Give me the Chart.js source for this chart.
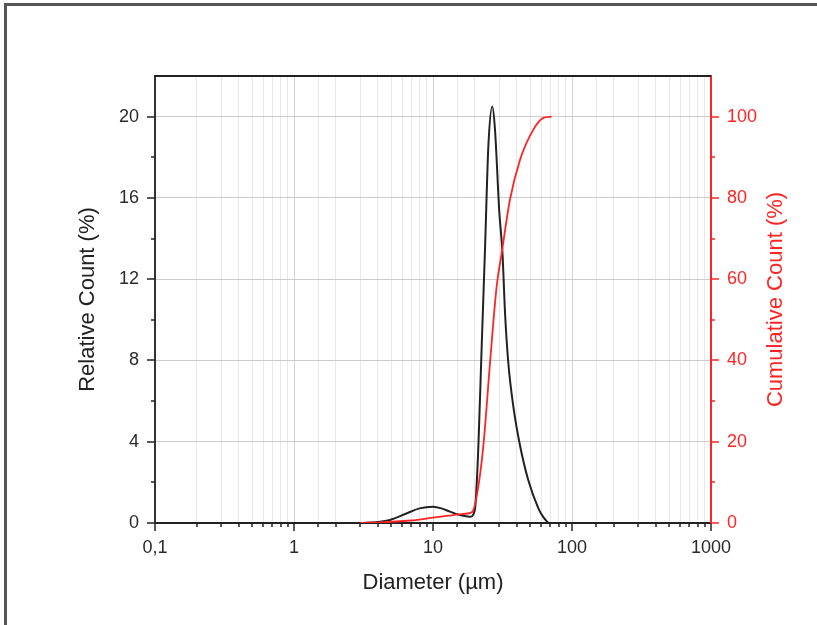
<!DOCTYPE html>
<html>
<head>
<meta charset="utf-8">
<script src="https://cdn.jsdelivr.net/npm/chart.js@4.4.1/dist/chart.umd.min.js"></script>
<style>
  body { margin: 0; background: #fff; }
  #wrap { position: relative; width: 817px; height: 625px; overflow: hidden; }
  #frame {
    position: absolute; left: 4px; top: 3px; width: 900px; height: 700px;
    border-left: 3px solid #555; border-top: 3px solid #555;
  }
  #chart { position: absolute; left: 0; top: 0; }
</style>
</head>
<body>
<div id="wrap">
  <div id="frame"></div>
  <canvas id="chart" width="817" height="625"></canvas>
</div>
<script>
// relative count curve (black, left axis)
const relDiameter = [3.0, 4.0, 4.9, 6.5, 8.0, 10.0, 11.5, 13.2, 15.6, 18.5, 20.0, 21.2, 22.4, 23.7, 25.0, 26.7, 27.9, 30.0, 31.6, 33.0, 34.8, 37.9, 42.3, 48.5, 57.3, 62.0, 67.6];
const relCount = [0, 0.05, 0.15, 0.48, 0.72, 0.80, 0.72, 0.56, 0.39, 0.31, 0.64, 3.76, 8.7, 13.6, 18.5, 20.5, 19.4, 15.3, 13.3, 10.3, 7.9, 5.7, 3.8, 2.1, 0.72, 0.3, 0];

// cumulative count curve (red, right axis)
const cumDiameter = [3.0, 4.5, 6.5, 8.0, 10.0, 13.0, 16.0, 19.0, 20.6, 23.0, 25.7, 28.7, 31.2, 35.8, 42.3, 52.7, 62.2, 71.4];
const cumCount = [0, 0.2, 0.55, 0.85, 1.3, 1.8, 2.2, 2.6, 6.5, 18.8, 39.3, 58.2, 66.4, 79.6, 89.4, 96.8, 99.7, 100];

const xMin = 0.1, xMax = 1000;
const yLeftMax = 22, yRightMax = 110;

const FONT = '"Liberation Sans", Arial, sans-serif';
const RED = '#ff2424';

function isDecade(v) {
  const l = Math.log10(v);
  return Math.abs(l - Math.round(l)) < 1e-6;
}

// ticks drawn by hand so that minor ticks can be shorter
const axisDecor = {
  id: 'axisDecor',
  afterDraw(chart) {
    const ctx = chart.ctx;
    const { left, right, top, bottom } = chart.chartArea;
    const sx = chart.scales.x, sy = chart.scales.y, sy1 = chart.scales.y1;
    ctx.save();
    ctx.strokeStyle = '#222';
    ctx.lineWidth = 2;
    ctx.beginPath();
    ctx.moveTo(left - 1, top);
    ctx.lineTo(right, top);
    ctx.stroke();

    ctx.lineWidth = 1.5;
    ctx.strokeStyle = '#222';
    sx.ticks.forEach((t) => {
      const px = Math.round(sx.getPixelForValue(t.value));
      const len = isDecade(t.value) ? 8 : 4;
      ctx.beginPath();
      ctx.moveTo(px, bottom);
      ctx.lineTo(px, bottom + len);
      ctx.stroke();
    });
    sy.ticks.forEach((t) => {
      if (t.value >= yLeftMax) return;
      const py = Math.round(sy.getPixelForValue(t.value));
      const len = t.value % 4 === 0 ? 8 : 4;
      ctx.beginPath();
      ctx.moveTo(left, py);
      ctx.lineTo(left - len, py);
      ctx.stroke();
    });
    ctx.strokeStyle = RED;
    sy1.ticks.forEach((t) => {
      if (t.value >= yRightMax) return;
      const py = Math.round(sy1.getPixelForValue(t.value));
      const len = t.value % 20 === 0 ? 8 : 4;
      ctx.beginPath();
      ctx.moveTo(right, py);
      ctx.lineTo(right + len, py);
      ctx.stroke();
    });

    // right title reads bottom to top
    ctx.translate(776, (top + bottom) / 2);
    ctx.rotate(-Math.PI / 2);
    ctx.fillStyle = RED;
    ctx.font = '22px ' + FONT;
    ctx.textAlign = 'center';
    ctx.textBaseline = 'middle';
    ctx.fillText('Cumulative Count (%)', 0, 0);
    ctx.restore();
  },
};

const ctx = document.getElementById('chart').getContext('2d');
new Chart(ctx, {
  type: 'line',
  data: {
    datasets: [
      {
        label: 'Cumulative Count',
        data: cumDiameter.map((d, i) => ({ x: d, y: cumCount[i] })),
        yAxisID: 'y1',
        borderColor: RED,
        borderWidth: 1.8,
        pointRadius: 0,
        cubicInterpolationMode: 'monotone',
        order: 0,
      },
      {
        label: 'Relative Count',
        data: relDiameter.map((d, i) => ({ x: d, y: relCount[i] })),
        yAxisID: 'y',
        borderColor: '#222',
        borderWidth: 2,
        pointRadius: 0,
        cubicInterpolationMode: 'monotone',
        order: 1,
      },
    ],
  },
  options: {
    responsive: false,
    animation: false,
    devicePixelRatio: 1,
    layout: { padding: { top: 76, left: 0, right: 0, bottom: 0 } },
    plugins: { legend: { display: false }, tooltip: { enabled: false } },
    scales: {
      x: {
        type: 'logarithmic',
        position: 'bottom',
        min: xMin,
        max: xMax,
        afterFit: (s) => { s.height = 102; },
        grid: {
          drawTicks: false,
          color: (c) => (c.tick && isDecade(c.tick.value) ? '#d4d4d4' : '#e8e8e8'),
          lineWidth: 1,
        },
        border: { display: true, color: '#222', width: 2 },
        ticks: {
          autoSkip: false,
          maxRotation: 0,
          padding: 14,
          color: '#2a2a2a',
          font: { family: FONT, size: 18 },
          callback: (v) => (isDecade(v) ? String(v).replace('.', ',') : ''),
        },
        title: {
          display: true,
          text: 'Diameter (µm)',
          color: '#222',
          font: { family: FONT, size: 22 },
          padding: { top: 0, bottom: 29 },
        },
      },
      y: {
        position: 'left',
        min: 0,
        max: yLeftMax,
        afterFit: (s) => { s.width = 155; },
        grid: {
          drawTicks: false,
          color: (c) => (c.tick && c.tick.value % 4 === 0 && c.tick.value > 0 ? '#cccccc' : 'rgba(0,0,0,0)'),
        },
        border: { display: true, color: '#333', width: 2 },
        ticks: {
          stepSize: 2,
          padding: 16,
          color: '#2a2a2a',
          font: { family: FONT, size: 18 },
          callback: (v) => (v % 4 === 0 && v <= 20 ? v : ''),
        },
        title: {
          display: true,
          text: 'Relative Count (%)',
          color: '#222',
          font: { family: FONT, size: 22 },
          padding: { top: 75, bottom: 0 },
        },
      },
      y1: {
        position: 'right',
        min: 0,
        max: yRightMax,
        afterFit: (s) => { s.width = 106; },
        grid: { drawOnChartArea: false, drawTicks: false },
        border: { display: true, color: RED, width: 2 },
        ticks: {
          stepSize: 10,
          padding: 16,
          color: RED,
          font: { family: FONT, size: 18 },
          callback: (v) => (v % 20 === 0 && v <= 100 ? v : ''),
        },
      },
    },
  },
  plugins: [axisDecor],
});
</script>
</body>
</html>
